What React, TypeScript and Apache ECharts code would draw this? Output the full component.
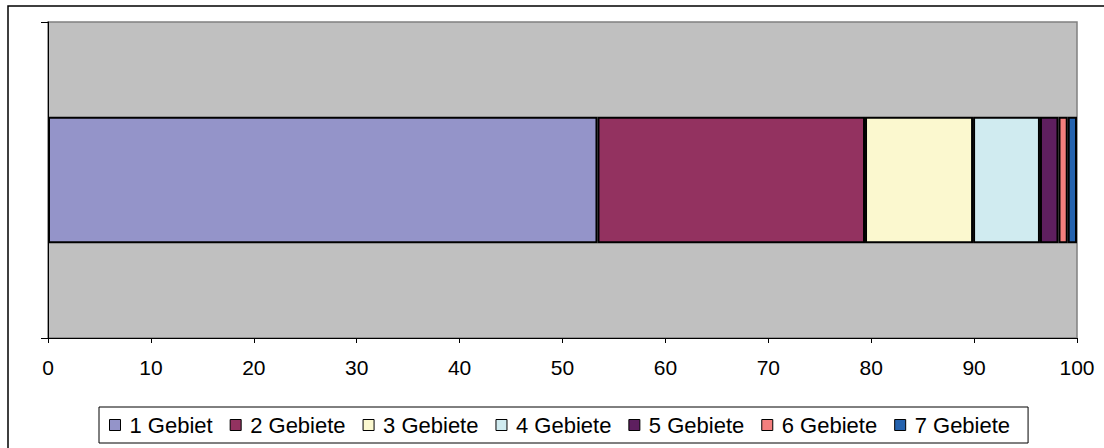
import React, { useEffect, useRef } from "react";
import * as echarts from "echarts";

const categories: string[] = ["Gebiete"];
const seriesNames: string[] = [
  "1 Gebiet",
  "2 Gebiete",
  "3 Gebiete",
  "4 Gebiete",
  "5 Gebiete",
  "6 Gebiete",
  "7 Gebiete",
];
const seriesValues: number[] = [53.4, 26.0, 10.5, 6.5, 1.8, 0.9, 0.9];
const seriesColors: string[] = [
  "#9494C9",
  "#933260",
  "#FBF8CF",
  "#D0EBF0",
  "#5E1F5F",
  "#F47F7E",
  "#2462AE",
];
const xMin = 0;
const xMax = 100;
const xInterval = 10;

const FONT = "'Liberation Sans', Arial, sans-serif";

export default function App() {
  const ref = useRef<HTMLDivElement>(null);
  useEffect(() => {
    if (!ref.current) return;
    const chart = echarts.init(ref.current, undefined, { renderer: "svg" });
    chart.setOption({
      animation: false,
      backgroundColor: "#FFFFFF",
      textStyle: { fontFamily: FONT },
      graphic: [
        {
          type: "rect",
          shape: { x: 8, y: 6, width: 1300, height: 700 },
          style: { fill: "none", stroke: "#000000", lineWidth: 1.5 },
          silent: true,
          z: 100,
        },
      ],
      grid: {
        left: 48,
        right: 27,
        top: 22,
        bottom: 110,
        show: true,
        backgroundColor: "#C0C0C0",
        borderColor: "#808080",
        borderWidth: 1.5,
      },
      legend: {
        left: 99,
        top: 407,
        orient: "horizontal",
        padding: [7, 18, 7, 10],
        borderColor: "#000000",
        borderWidth: 1,
        backgroundColor: "#FFFFFF",
        itemWidth: 11,
        itemHeight: 11,
        itemGap: 17,
        icon: "rect",
        itemStyle: { borderColor: "#000000", borderWidth: 1 },
        textStyle: {
          fontFamily: FONT,
          fontSize: 22,
          color: "#000000",
          lineHeight: 22,
          padding: [0, 0, 0, 4],
        },
        data: seriesNames,
      },
      xAxis: {
        type: "value",
        min: xMin,
        max: xMax,
        interval: xInterval,
        axisLine: { show: true, lineStyle: { color: "#000000", width: 1 } },
        axisTick: { show: true, length: 5, lineStyle: { color: "#000000" } },
        splitLine: { show: false },
        axisLabel: {
          color: "#000000",
          fontFamily: FONT,
          fontSize: 21,
          margin: 19,
        },
      },
      yAxis: {
        type: "category",
        data: categories,
        boundaryGap: true,
        axisLine: { show: true, lineStyle: { color: "#000000", width: 1 } },
        axisTick: { show: true, length: 7, lineStyle: { color: "#000000" } },
        axisLabel: { show: false },
        splitLine: { show: false },
      },
      series: seriesNames.map((name, i) => ({
        name,
        type: "bar",
        stack: "total",
        barWidth: "40%",
        data: [seriesValues[i]],
        itemStyle: {
          color: seriesColors[i],
          borderColor: "#000000",
          borderWidth: 2,
        },
      })),
    });
    return () => chart.dispose();
  }, []);
  return (
    <div
      ref={ref}
      style={{ position: "fixed", left: 0, top: 0, width: 1104, height: 448 }}
    />
  );
}
